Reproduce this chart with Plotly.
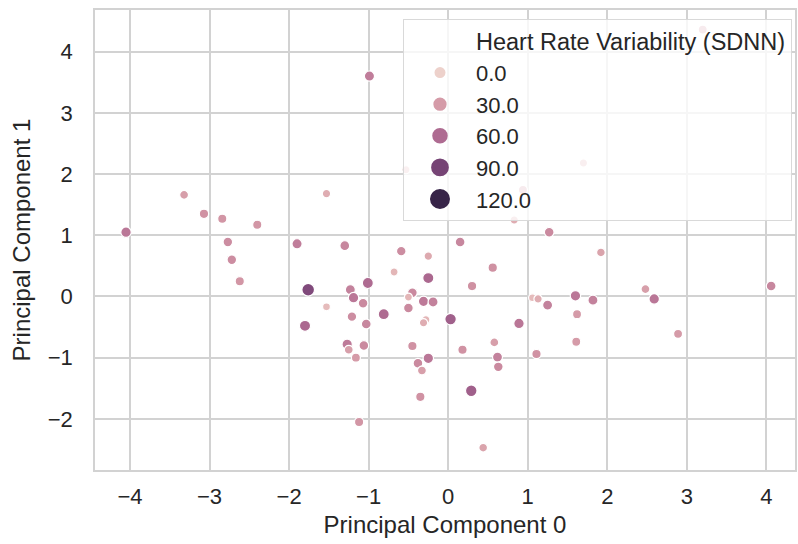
import numpy as np
import plotly.graph_objects as go
from plotly.colors import sample_colorscale

# ---- data ----
pc0 = [-0.99, -3.32, -1.53, -3.07, -2.84, -2.40, -4.05, -2.77, -2.72, -2.62,
       -1.90, -1.30, -0.59, -0.68, -1.76, -1.23, -1.01, -1.19, -1.07, -1.53,
       -0.81, -1.21, -1.03, -1.80, -1.27, -1.25, -1.06, -1.16, -1.12, -0.45,
       -0.50, -0.50, 0.15, -0.25, 0.56, 0.30, -0.25, -0.31, -0.19, -0.28,
       -0.31, 0.03, 0.89, 1.06, 1.13, -0.45, -0.25, -0.38, -0.33, 0.18,
       0.58, 0.62, 0.63, 0.29, -0.35, 1.11, 1.27, 1.92, 4.06, 2.48,
       2.59, 2.89, 1.25, 1.60, 1.82, 1.62, 1.61, 0.44, -0.53, 1.70,
       0.94, 0.83, 3.20]
pc1 = [3.60, 1.66, 1.68, 1.35, 1.27, 1.17, 1.05, 0.89, 0.60, 0.25,
       0.86, 0.83, 0.74, 0.40, 0.11, 0.11, 0.22, -0.02, -0.11, -0.17,
       -0.29, -0.33, -0.45, -0.48, -0.78, -0.87, -0.80, -1.00, -2.05, 0.06,
       -0.01, -0.19, 0.89, 0.66, 0.47, 0.17, 0.30, -0.08, -0.09, -0.38,
       -0.43, -0.37, -0.44, -0.02, -0.04, -0.81, -1.01, -1.09, -1.21, -0.87,
       -0.75, -0.99, -1.15, -1.54, -1.64, -0.94, 1.05, 0.72, 0.17, 0.12,
       -0.04, -0.61, -0.14, 0.01, -0.06, -0.29, -0.74, -2.47, 2.07, 2.18,
       1.74, 1.25, 4.36]
sdnn = [48, 28, 20, 35, 33, 33, 52, 38, 38, 33,
        48, 42, 38, 15, 85, 45, 60, 52, 40, 12,
        60, 38, 42, 62, 50, 28, 40, 30, 33, 40,
        15, 40, 42, 22, 36, 36, 62, 50, 45, 15,
        20, 68, 52, 12, 20, 35, 52, 40, 28, 35,
        28, 45, 40, 68, 35, 35, 40, 25, 42, 28,
        52, 30, 45, 52, 45, 30, 30, 25, 15, 20,
        30, 20, 30]
legend_levels = [0, 30, 60, 90, 120]
legend_labels = ["0.0", "30.0", "60.0", "90.0", "120.0"]
hue_title = "Heart Rate Variability (SDNN)"
VMAX = 125


# ---- seaborn-like cubehelix colour scale ----
def cubehelix(x, start=0.0, rot=0.4, gamma=1.0, hue=0.8):
    xg = x ** gamma
    a = hue * xg * (1 - xg) / 2
    phi = 2 * np.pi * (start / 3 + rot * x)
    r = xg + a * (-0.14861 * np.cos(phi) + 1.78277 * np.sin(phi))
    g = xg + a * (-0.29227 * np.cos(phi) - 0.90649 * np.sin(phi))
    b = xg + a * (1.97294 * np.cos(phi))
    return [int(round(255 * min(max(c, 0), 1))) for c in (r, g, b)]


stops = np.linspace(0, 1, 21)
colorscale = [[float(s), "rgb(%d,%d,%d)" % tuple(cubehelix(0.85 - 0.7 * s))] for s in stops]

sizes = [7 + v / 15 for v in sdnn]

FONT = "Liberation Sans, Arial, sans-serif"
TXT = "#262626"

fig = go.Figure()
fig.add_trace(go.Scatter(
    x=pc0, y=pc1, mode="markers", showlegend=False,
    marker=dict(color=sdnn, colorscale=colorscale, cmin=0, cmax=VMAX,
                size=sizes, line=dict(color="white", width=1.2), opacity=1),
))

# legend: title entry (invisible handle) + level entries
fig.add_trace(go.Scatter(
    x=[None], y=[None], mode="markers",
    name='<span style="font-size:23.5px">%s</span>' % hue_title,
    marker=dict(color="rgba(0,0,0,0)", size=2, line=dict(width=0)),
))
leg_colors = sample_colorscale(colorscale, [lv / VMAX for lv in legend_levels])
for lv, lab, col in zip(legend_levels, legend_labels, leg_colors):
    total = 11 + 0.075 * lv
    fig.add_trace(go.Scatter(
        x=[None], y=[None], mode="markers", name=lab,
        marker=dict(color=col, size=total - 4, line=dict(color=col, width=4)),
    ))

axis_common = dict(
    showgrid=True, gridcolor="#d2d2d2", gridwidth=1.5,
    showline=True, linecolor="#d2d2d2", linewidth=1.5, mirror=True,
    zeroline=False, ticks="", dtick=1,
    tickfont=dict(family=FONT, size=22, color=TXT),
)

fig.update_layout(
    width=798, height=544,
    margin=dict(l=95, r=1, t=10, b=74),
    paper_bgcolor="white", plot_bgcolor="white",
    font=dict(family=FONT, color=TXT),
    xaxis=dict(range=[-4.44, 4.36], ticklabelstandoff=6,
               title=dict(text="Principal Component 0",
                          font=dict(family=FONT, size=24, color=TXT), standoff=8),
               **axis_common),
    yaxis=dict(range=[-2.835, 4.68], ticklabelstandoff=16,
               title=dict(text="Principal Component 1",
                          font=dict(family=FONT, size=24, color=TXT), standoff=10),
               **axis_common),
    legend=dict(x=0.9957, xanchor="right", y=0.98, yanchor="top",
                bgcolor="rgba(255,255,255,0.8)", bordercolor="#d9d9d9", borderwidth=1,
                font=dict(family=FONT, size=22, color=TXT),
                itemwidth=62, itemsizing="trace"),
    showlegend=True,
)

fig.write_html("out.html", config={"displayModeBar": False},
               post_script="document.body.style.margin='0';")
